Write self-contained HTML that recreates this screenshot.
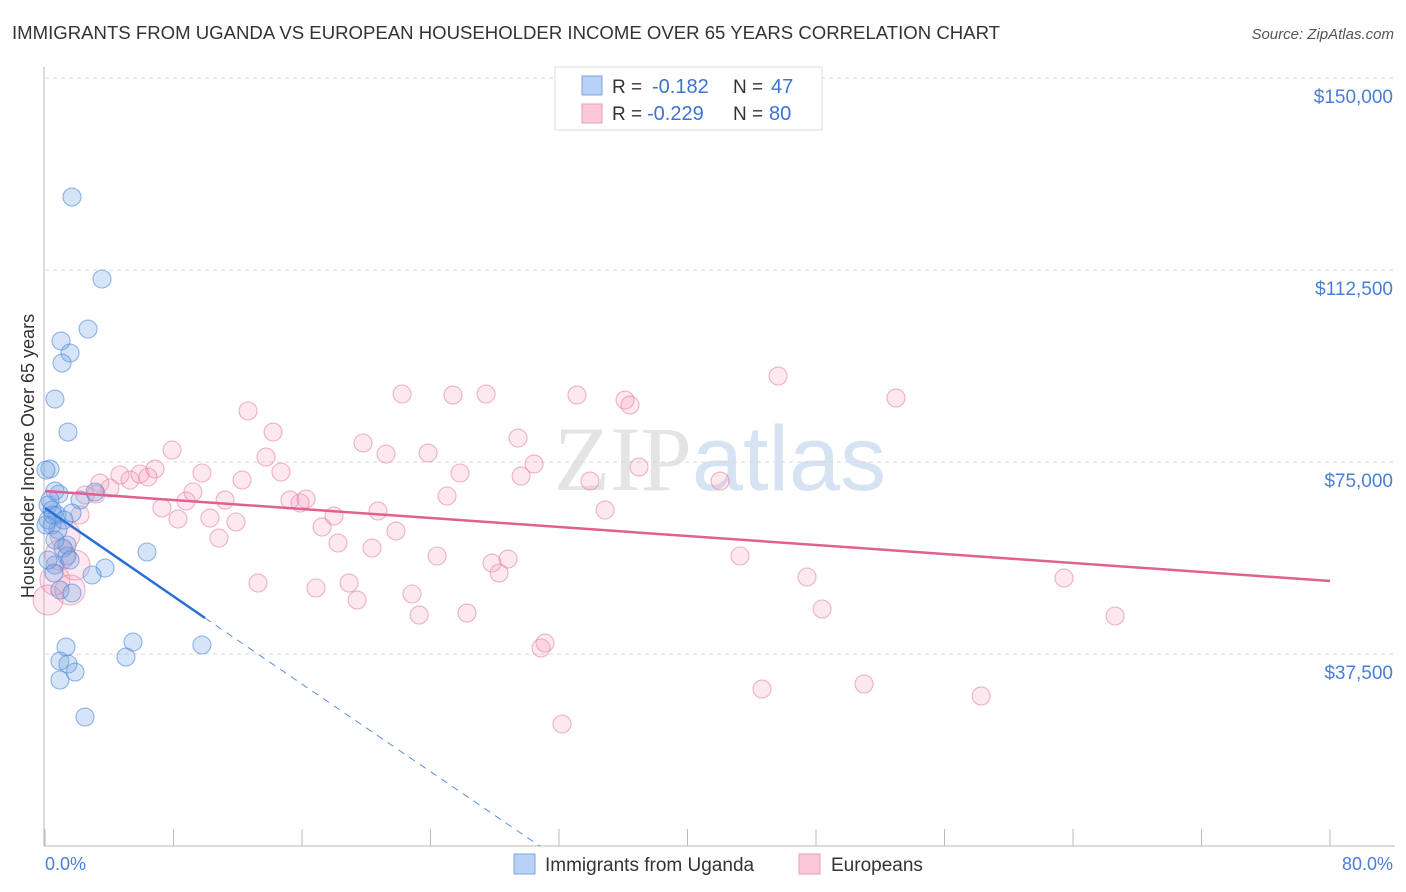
<!DOCTYPE html>
<html><head><meta charset="utf-8"><style>
body{margin:0;background:#fff;font-family:"Liberation Sans",sans-serif;}
svg{display:block}
</style></head><body>
<svg id="chart" width="1406" height="892" viewBox="0 0 1406 892" xmlns="http://www.w3.org/2000/svg">
<text x="12" y="39" font-size="18" fill="#333" textLength="988" lengthAdjust="spacingAndGlyphs">IMMIGRANTS FROM UGANDA VS EUROPEAN HOUSEHOLDER INCOME OVER 65 YEARS CORRELATION CHART</text>
<text x="1394" y="39" font-size="15" fill="#555" font-style="italic" text-anchor="end">Source: ZipAtlas.com</text>
<text x="720" y="490" font-size="92" text-anchor="middle" fill="#e4e4e4" font-family="Liberation Serif,serif">ZIP<tspan fill="#d6e3f3" font-family="Liberation Sans,sans-serif">atlas</tspan></text>
<g id="grid"></g>
<g id="axes"></g>
<g id="pts"></g>
<g id="lines"></g>
<text transform="translate(34,456) rotate(-90)" font-size="18" fill="#333" text-anchor="middle">Householder Income Over 65 years</text>
<text x="45" y="870" font-size="18" fill="#4a7fd4">0.0%</text>
<text x="1393" y="870" font-size="18" fill="#4a7fd4" text-anchor="end">80.0%</text>
<g>
<rect x="555" y="67" width="267" height="63" fill="#fff" stroke="#ddd"/>
<rect x="582" y="76" width="20" height="19" fill="#b8d2f5" stroke="#7aa4e0"/>
<rect x="582" y="104" width="20" height="19" fill="#fac8d7" stroke="#eba0b8"/>
<text x="612" y="93" font-size="19" fill="#333">R =</text>
<text x="652" y="93" font-size="20" fill="#3b74d0">-0.182</text>
<text x="733" y="93" font-size="19" fill="#333">N =</text>
<text x="771" y="93" font-size="20" fill="#3b74d0">47</text>
<text x="612" y="120" font-size="19" fill="#333">R =</text>
<text x="647" y="120" font-size="20" fill="#3b74d0">-0.229</text>
<text x="733" y="120" font-size="19" fill="#333">N =</text>
<text x="769" y="120" font-size="20" fill="#3b74d0">80</text>
</g>
<g>
<rect x="514" y="854" width="21" height="20" fill="#b8d2f5" stroke="#7aa4e0"/>
<text x="545" y="871" font-size="19" fill="#333">Immigrants from Uganda</text></g>
<g>
<rect x="799" y="854" width="21" height="20" fill="#fac8d7" stroke="#eba0b8"/>
<text x="831" y="871" font-size="19" fill="#333">Europeans</text></g>
</svg>
<script>
const yTicks=[37500,75000,112500,150000];
const yTickLabels=["$37,500","$75,000","$112,500","$150,000"];
const blueX=[1.68,3.55,2.68,1.0,1.56,1.06,0.62,1.43,0.31,0.62,0.87,3.11,2.18,0.19,0.44,0.75,1.68,0.19,0.44,1.37,1.12,1.37,6.35,0.62,3.74,0.56,2.93,0.93,1.68,5.48,1.31,5.04,0.93,1.43,1.87,0.93,9.77,2.49,0.19,0.81,0.06,0.31,0.5,0.06,1.56,0.62,1.18];
const blueY=[126750,110740,100970,98630,96280,94330,87300,80850,73630,69330,68750,69140,67570,66600,65620,64640,65030,63670,62690,58790,58200,56640,57420,54880,54290,53320,52930,50000,49410,39840,38860,36910,36130,35540,33980,32420,39260,25190,55860,61710,73430,67570,64640,62690,55860,59760,63670];
const pinkX=[12.64,22.23,25.40,27.46,33.12,36.11,36.42,45.64,52.98,14.20,7.91,19.80,23.85,29.45,21.23,13.76,6.85,9.77,12.27,14.69,25.84,30.45,29.64,36.98,42.03,33.93,4.67,3.42,5.29,5.91,6.41,4.05,3.18,9.21,8.78,11.21,15.25,16.25,15.88,25.03,7.28,8.28,10.27,11.89,17.99,20.73,17.25,21.85,10.83,18.24,20.36,34.87,24.41,27.83,28.83,28.27,43.27,13.26,16.87,18.93,19.43,22.85,23.29,26.27,47.44,48.38,63.44,66.62,31.13,30.88,44.64,50.99,58.28,32.19,2.49,2.18,1.25,0.93,0.62,0.19,1.87,1.56];
const pinkY=[84960,88280,88080,88280,88080,87100,86130,91790,87490,80850,77340,78710,76750,79680,76560,75970,73630,72850,71480,73040,72850,74600,72260,74020,71280,71280,72460,70890,71480,72650,72070,69920,68750,69140,67380,67570,67570,67770,66990,68360,66010,63860,64060,63280,64450,65430,62300,61520,60150,59180,58200,65620,56640,55270,56050,53320,56640,51360,50390,51360,48040,49220,45110,45500,52540,46290,52340,44920,39650,38670,30660,31640,29300,23830,68550,64640,60740,56830,51950,48040,54880,50000];
const pinkTrend=[[0,69336],[80,51758]];
const blueTrend=[[0,66016],[9.96,44531]];
const blueDash=[[9.96,44531],[30.8,0]];
const xTicks=[0,8,16,24,32,40,48,56,64,72,80];

const NS="http://www.w3.org/2000/svg";
const X=v=>45+v/80*1285;
const Y=v=>846-v/37500*192;
function mk(tag,attrs,parent){const e=document.createElementNS(NS,tag);for(const k in attrs)e.setAttribute(k,attrs[k]);parent.appendChild(e);return e;}
const grid=document.getElementById('grid'),axes=document.getElementById('axes'),pts=document.getElementById('pts'),lines=document.getElementById('lines');
yTicks.forEach((t,i)=>{
 const l=mk('line',{x1:45,x2:1395,y1:Y(t),y2:Y(t),stroke:'#d8d8d8','stroke-dasharray':'4,4'},grid);
 
 
 const tx=mk('text',{x:1393,y:Y(t)+25,'font-size':19,fill:'#4a7fd4','text-anchor':'end'},grid);
 tx.textContent=yTickLabels[i];
 
 
});
const ya=mk('line',{x1:44,x2:44,y1:67,y2:846,stroke:'#bbb'},axes);


const xa=mk('line',{x1:44,x2:1395,y1:846,y2:846,stroke:'#bbb'},axes);


xTicks.forEach(t=>{
 const l=mk('line',{x1:X(t),x2:X(t),y1:829,y2:846,stroke:'#bbb'},axes);
 
 
});
pinkX.forEach((v,i)=>{
 const r=v<2?15:9;
 const c=mk('circle',{cx:X(v),cy:Y(pinkY[i]),r:r,fill:'rgba(244,150,180,0.22)',stroke:'rgba(228,130,165,0.6)','stroke-width':1.1},pts);
 
 
});
blueX.forEach((v,i)=>{
 const c=mk('circle',{cx:X(v),cy:Y(blueY[i]),r:9,fill:'rgba(120,165,230,0.3)',stroke:'rgba(80,135,220,0.6)','stroke-width':1.1},pts);
 
 
});
const pl=mk('line',{x1:X(pinkTrend[0][0]),y1:Y(pinkTrend[0][1]),x2:X(pinkTrend[1][0]),y2:Y(pinkTrend[1][1]),stroke:'#e0608f','stroke-width':2.5},lines);


const bl=mk('line',{x1:X(blueTrend[0][0]),y1:Y(blueTrend[0][1]),x2:X(blueTrend[1][0]),y2:Y(blueTrend[1][1]),stroke:'#2a6fd6','stroke-width':2.5},lines);


const bd=mk('line',{x1:X(blueDash[0][0]),y1:Y(blueDash[0][1]),x2:X(blueDash[1][0]),y2:Y(blueDash[1][1]),stroke:'#5a8fdc','stroke-width':1,'stroke-dasharray':'7,6'},lines);


</script>
</body></html>
